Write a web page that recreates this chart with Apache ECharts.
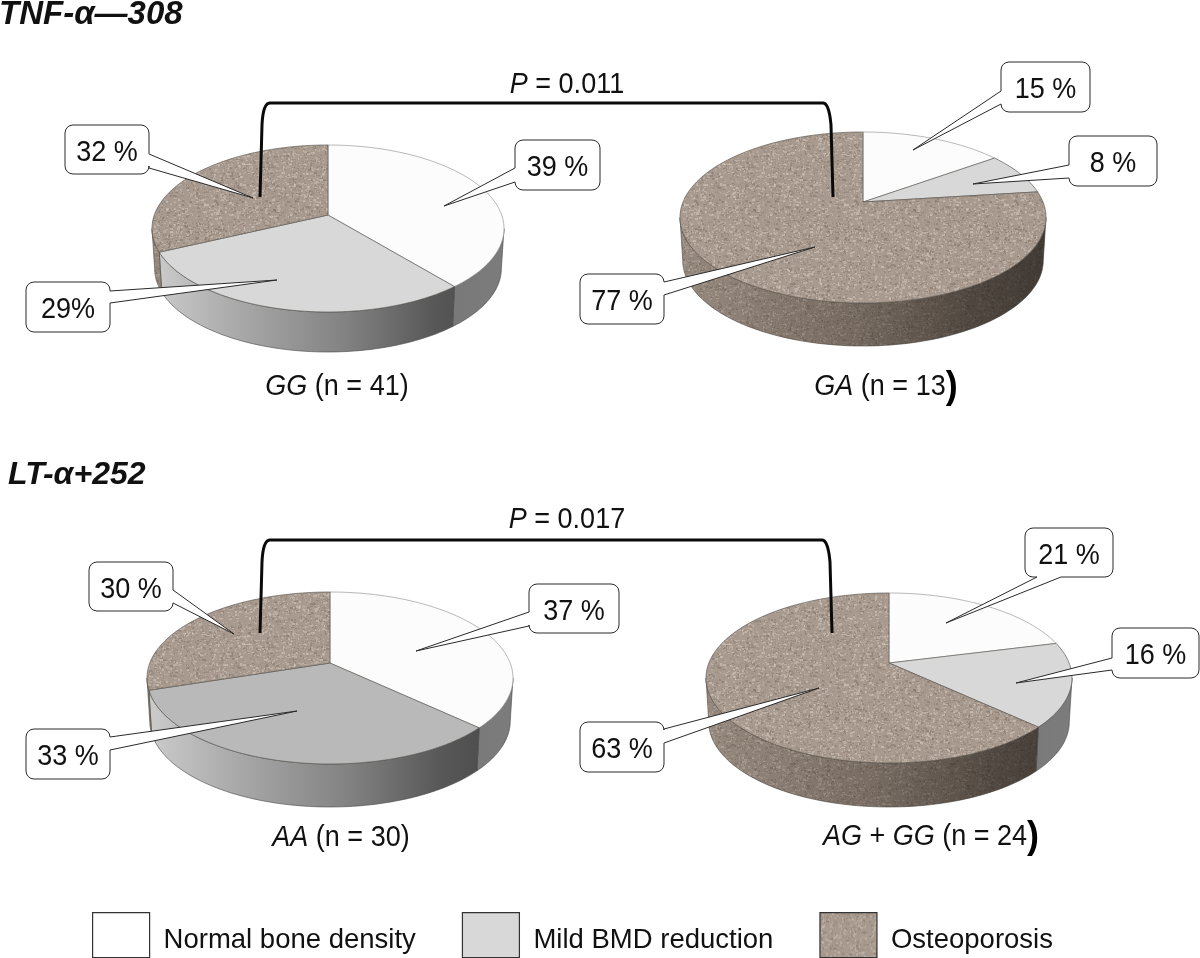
<!DOCTYPE html>
<html><head><meta charset="utf-8">
<style>html,body{margin:0;padding:0;background:#fff}#c{width:1200px;height:958px}</style>
<script src="https://cdn.jsdelivr.net/npm/echarts@6/dist/echarts.min.js"></script>
</head><body><div id="c"></div>
<script>
// ---- data ----
const groups = ['GG', 'GA', 'AA', 'AG + GG'];
const normalBone = [39, 15, 37, 21];
const mildBMD = [29, 8, 33, 16];
const osteoporosis = [32, 77, 30, 63];
const seriesNames = ['Normal bone density', 'Mild BMD reduction', 'Osteoporosis'];
const calloutTexts = ['39 %', '29%', '32 %', '15 %', '8 %', '77 %', '37 %', '33 %', '30 %', '21 %', '16 %', '63 %'];
const captions = ['{i|GG} (n = 41)', '{i|GA} (n = 13{p|)}', '{i|AA} (n = 30)', '{i|AG} + {i|GG} (n = 24{p|)}'];
const pValues = ['0.011', '0.017'];
const titles = ['TNF-α—308', 'LT-α+252'];

// ---- layout (not data) ----
const pieLayout = [
  {vx: 328, vy: 215, back: 70, front: 97, rx: 176, depth: 40},
  {vx: 863, vy: 202, back: 70, front: 101, rx: 183, depth: 43},
  {vx: 330, vy: 663, back: 71, front: 101, rx: 183, depth: 43},
  {vx: 889, vy: 663, back: 70, front: 100, rx: 183, depth: 44}
];
// box [x,y,w,h], tip [x,y], side (0 top,1 right,2 bottom,3 left), base pair along that side
const calloutLayout = [
  {b: [515, 140, 85, 50], t: [444, 206], s: 3, a: [168, 182]},
  {b: [26, 282, 84, 50], t: [277, 280], s: 1, a: [291, 303]},
  {b: [65, 125, 84, 49], t: [253, 198], s: 1, a: [154, 168]},
  {b: [1001, 62, 89, 50], t: [913, 150], s: 3, a: [91, 104]},
  {b: [1069, 136, 88, 50], t: [973, 184], s: 3, a: [165, 178]},
  {b: [580, 274, 84, 50], t: [815, 247], s: 1, a: [282, 295]},
  {b: [529, 584, 90, 49], t: [416, 651], s: 3, a: [612, 626]},
  {b: [26, 729, 84, 50], t: [297, 711], s: 1, a: [737, 750]},
  {b: [89, 562, 84, 49], t: [234, 634], s: 1, a: [590, 603]},
  {b: [1025, 528, 88, 49], t: [946, 623], s: 2, a: [1037, 1061]},
  {b: [1112, 628, 87, 50], t: [1016, 683], s: 3, a: [658, 670]},
  {b: [580, 722, 84, 50], t: [819, 688], s: 1, a: [729, 743]}
];
const captionPos = [[337, 387], [886, 387], [341, 838], [931, 837]];
const FONT = '"Liberation Sans", Arial, sans-serif';

// ---- speckle texture tile (deterministic) ----
function makeTexture() {
  const c = document.createElement('canvas'); c.width = c.height = 160;
  const g = c.getContext('2d'); g.fillStyle = '#a89a8e'; g.fillRect(0, 0, 160, 160);
  let s = 12345; const r = () => (s = (s * 1103515245 + 12345) & 0x7fffffff) / 0x7fffffff;
  const cols = ['#c8bdb2', '#baaea2', '#91847a', '#83766a', '#d2c8be', '#9c8f83'];
  for (let i = 0; i < 5200; i++) {
    g.fillStyle = cols[Math.floor(r() * cols.length)];
    g.globalAlpha = 0.55;
    g.fillRect(Math.floor(r() * 160), Math.floor(r() * 160), 1 + Math.floor(r() * 2.4), 1 + Math.floor(r() * 2));
  }
  return c;
}
const texture = {image: makeTexture(), repeat: 'repeat'};

// ---- pie projection ----
function projector(L) {
  const k = (L.front - L.back) / (L.front + L.back);
  const H = L.back * (1 + k), W = L.rx * Math.sqrt(1 - k * k);
  const pt = th => {
    const u = Math.sin(th), v = Math.cos(th), w = 1 + k * v;
    return [L.vx + W * u / w, L.vy - H * v / w];
  };
  const thR = Math.PI / 2 + Math.asin(k);
  return {pt, thR, thL: 2 * Math.PI - thR};
}
function arc(pt, a, b) {
  const n = Math.max(2, Math.ceil((b - a) / 0.03)), out = [];
  for (let i = 0; i <= n; i++) out.push(pt(a + (b - a) * i / n));
  return out;
}
const allSeries = [normalBone, mildBMD, osteoporosis];

function sliceRenderer(si) {
  return function (params, api) {
    const i = params.dataIndex, L = pieLayout[i], P = projector(L);
    let before = 0, total = 0;
    allSeries.forEach((s, j) => { total += s[i]; if (j < si) before += s[i]; });
    const a = before / total * 2 * Math.PI;
    const b = (before + api.value(0)) / total * 2 * Math.PI;
    const children = [];
    const x0 = L.vx - L.rx, x1 = L.vx + L.rx;
    const aw = Math.max(a, P.thR), bw = Math.min(b, P.thL);
    if (bw > aw) {
      const top = arc(P.pt, aw, bw);
      const bot = top.map(p => [L.vx + (p[0] - L.vx) * 0.985, p[1] + L.depth]).reverse();
      const pts = top.concat(bot);
      if (si === 2) {
        children.push({type: 'polygon', shape: {points: pts}, silent: true, style: {fill: texture, stroke: null}});
        children.push({type: 'polygon', shape: {points: pts}, silent: true, style: {
          fill: new echarts.graphic.LinearGradient(x0, 0, x1, 0, [
            {offset: 0, color: 'rgba(30,22,16,0.12)'}, {offset: 0.45, color: 'rgba(30,22,16,0.34)'},
            {offset: 0.8, color: 'rgba(25,20,16,0.62)'}, {offset: 1, color: 'rgba(25,20,16,0.72)'}], true),
          stroke: '#4a433c', lineWidth: 0.6}});
      } else {
        const sweeping = si === 1 && bw > 3;
        const grad = sweeping ? [
          {offset: 0, color: '#cccccc'}, {offset: 0.25, color: '#a8a8a8'}, {offset: 0.55, color: '#828282'},
          {offset: 0.8, color: '#585858'}, {offset: 1, color: '#474747'}]
          : [{offset: 0, color: '#666666'}, {offset: 1, color: '#7c7c7c'}];
        children.push({type: 'polygon', shape: {points: pts}, silent: true, style: {
          fill: new echarts.graphic.LinearGradient(x0, 0, x1, 0, grad, true), stroke: '#444', lineWidth: 0.6}});
      }
    }
    const fills = [ '#fcfcfc', i === 2 ? '#b9b9b9' : '#d8d8d8', texture ];
    children.push({type: 'polygon', shape: {points: [[L.vx, L.vy]].concat(arc(P.pt, a, b))}, silent: true,
      style: {fill: fills[si], stroke: si === 0 ? '#9a9a9a' : '#5f5a55', lineWidth: 0.7}});
    return {type: 'group', children};
  };
}

function calloutShape(c) {
  const [x, y, w, h] = c.b, r = 8, pts = [];
  const corner = (cx, cy, start) => { for (let i = 0; i <= 4; i++) { const t = start + i / 4 * Math.PI / 2; pts.push([cx + r * Math.cos(t), cy + r * Math.sin(t)]); } };
  corner(x + r, y + r, Math.PI);
  if (c.s === 0) pts.push([c.a[0], y], c.t, [c.a[1], y]);
  corner(x + w - r, y + r, -Math.PI / 2);
  if (c.s === 1) pts.push([x + w, c.a[0]], c.t, [x + w, c.a[1]]);
  corner(x + w - r, y + h - r, 0);
  if (c.s === 2) pts.push([c.a[1], y + h], c.t, [c.a[0], y + h]);
  corner(x + r, y + h - r, Math.PI / 2);
  if (c.s === 3) pts.push([x, c.a[1]], c.t, [x, c.a[0]]);
  return pts;
}
function calloutRenderer(params) {
  const c = calloutLayout[params.dataIndex];
  return {type: 'group', children: [
    {type: 'polygon', shape: {points: calloutShape(c)}, silent: true, style: {fill: '#fff', stroke: '#2a2a2a', lineWidth: 1}},
    {type: 'text', silent: true, x: c.b[0] + c.b[2] / 2, y: c.b[1] + c.b[3] / 2 + 3, scaleY: 1.08, style: {
      text: calloutTexts[params.dataIndex], font: '27px ' + FONT, fill: '#111', align: 'center', verticalAlign: 'middle'}}
  ]};
}

function bracket(xl, yl, xr, yr, top) {
  const curve = (p0, p1, p2) => { const o = []; for (let i = 0; i <= 10; i++) { const t = i / 10, m = 1 - t; o.push([m*m*p0[0] + 2*m*t*p1[0] + t*t*p2[0], m*m*p0[1] + 2*m*t*p1[1] + t*t*p2[1]]); } return o; };
  const pts = [[xl, yl]].concat(curve([xl + 2, top + 22], [xl + 3, top], [xl + 10, top]),
    curve([xr - 10, top], [xr - 4, top], [xr - 2, top + 22]), [[xr, yr]]);
  return {type: 'polyline', z: 50, silent: true, shape: {points: pts}, style: {stroke: '#0a0a0a', lineWidth: 3, fill: null, lineJoin: 'round'}};
}
const richCap = {i: {font: 'italic 27px ' + FONT, fill: '#111'}, p: {font: 'bold 36px ' + FONT, fill: '#000'}};
function textEl(x, y, text, font, rich, align, scaleY) {
  return {type: 'text', z: 50, silent: true, x, y, scaleY: scaleY || 1, style: {text, font, fill: '#111', align: align || 'center', verticalAlign: 'middle', rich}};
}
const graphicEls = [
  textEl(-1, 15, titles[0], 'italic bold 33px ' + FONT, null, 'left'),
  textEl(8, 475, titles[1], 'italic bold 32px ' + FONT, null, 'left'),
  textEl(567, 85, '{i|P} = ' + pValues[0], '27px ' + FONT, richCap, 'center', 1.08),
  textEl(567, 520, '{i|P} = ' + pValues[1], '27px ' + FONT, richCap, 'center', 1.08),
  bracket(260, 197, 833, 197, 103),
  bracket(260, 633, 832, 633, 540)
].concat(captions.map((c, i) => textEl(captionPos[i][0], captionPos[i][1], c, '27px ' + FONT, richCap, 'center', 1.08)));

const swatchColors = ['#ffffff', '#d8d8d8', texture];
const chart = echarts.init(document.getElementById('c'), null, {renderer: 'canvas'});
chart.setOption({
  animation: false,
  backgroundColor: '#fff',
  legend: {
    left: 92, top: 912, padding: 0, itemWidth: 57, itemHeight: 45, itemGap: 46, selectedMode: false,
    formatter: name => '{a|' + name + '}',
    textStyle: {rich: {a: {fontFamily: FONT, fontSize: 27.5, color: '#111', padding: [10, 0, 0, 9]}}},
    data: seriesNames.map((n, i) => ({name: n, icon: 'rect',
      itemStyle: {color: swatchColors[i], borderColor: '#333', borderWidth: 1.2}}))
  },
  graphic: {elements: graphicEls},
  series: seriesNames.map((n, si) => ({
    type: 'custom', name: n, coordinateSystem: 'none', z: 2, silent: true,
    itemStyle: {color: swatchColors[si]},
    renderItem: sliceRenderer(si),
    data: allSeries[si].map((v, i) => ({name: groups[i], value: [v]}))
  })).concat([{
    type: 'custom', name: 'callouts', coordinateSystem: 'none', z: 10, silent: true,
    renderItem: calloutRenderer,
    data: calloutTexts.map(t => [parseInt(t, 10)])
  }])
});
</script></body></html>
